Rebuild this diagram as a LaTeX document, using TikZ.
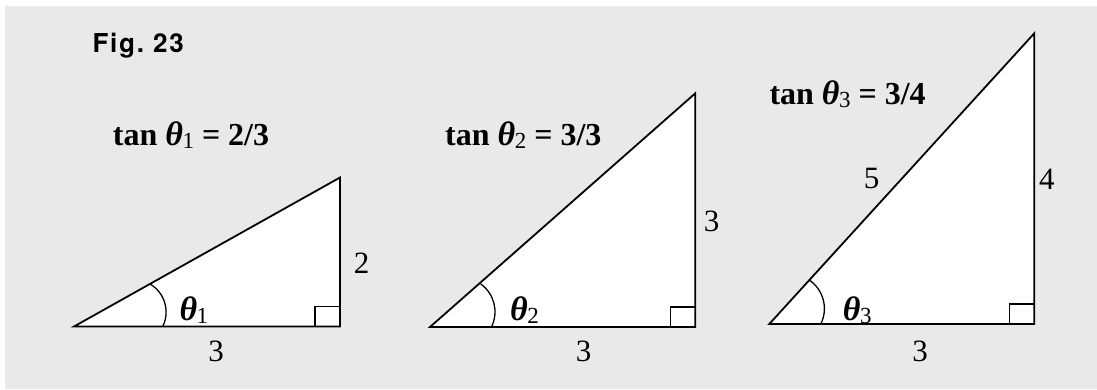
\documentclass[tikz,border=0pt]{standalone}
\usepackage{fontspec}
\setmainfont{Liberation Serif}
\newfontfamily\figfont{TeX Gyre Heros}
\definecolor{bggray}{RGB}{233,233,233}
\newcommand{\thsub}[1]{{\fontsize{34}{36}\selectfont\textit{θ}}\kern-0.5pt\raisebox{-3.5pt}{\fontsize{23}{23}\selectfont\mdseries #1}}
\tikzset{
  tri/.style={draw=black, fill=white, line width=1.8pt, line join=miter},
  rabox/.style={draw=black, line width=1.4pt},
  angarc/.style={draw=black, line width=1.3pt},
  num/.style={inner sep=0pt, font=\fontsize{31}{32}\selectfont},
  eqn/.style={inner sep=0pt, anchor=base west, font=\fontsize{32}{36}\selectfont\bfseries},
  figlabel/.style={inner sep=0pt, anchor=base west, font=\figfont\fontsize{26}{28}\selectfont\bfseries},
}
\begin{document}
\begin{tikzpicture}[x=1pt,y=-1pt]
\useasboundingbox (0,0) rectangle (1097,389);
\fill[bggray] (5,6) rectangle (1097,389);

\node[figlabel] (fig) at (92.3,52) {F\kern1.8pt i\kern1.8pt g\kern1.8pt .\kern1.8pt\ 2\kern1.8pt 3};

% triangle 1
\coordinate (A1) at (74,326.5);
\coordinate (C1) at (340,326.5);
\coordinate (T1) at (340,177.5);
\draw[tri] (A1) -- (C1) -- (T1) -- cycle;
\draw[rabox] ([xshift=-25pt]C1) rectangle ([yshift=20pt]C1);
\draw[angarc] (133.5,312.1) ++(26:32.6) arc[start angle=26, end angle=-59.6, radius=32.6];
\node[eqn] (eq1) at (112.7,145) {tan \thsub{1} = 2/3};
\node[eqn] (th1) at (179.3,320) {\thsub{1}};
\node[num] (s1a) at (361.5,263) {2};
\node[num] (s1b) at (216,351.7) {3};

% triangle 2
\coordinate (A2) at (430,327);
\coordinate (C2) at (695.3,327);
\coordinate (T2) at (695.3,93.3);
\draw[tri] (A2) -- (C2) -- (T2) -- cycle;
\draw[rabox] ([xshift=-25pt]C2) rectangle ([yshift=20pt]C2);
\draw[angarc] (460.7,311.8) ++(25.4:34.3) arc[start angle=25.4, end angle=-54.3, radius=34.3];
\node[eqn] (eq2) at (445,145) {tan \thsub{2} = 3/3};
\node[eqn] (th2) at (510,320) {\thsub{2}};
\node[num] (s2a) at (711.5,221.7) {3};
\node[num] (s2b) at (583.7,351.7) {3};

% triangle 3
\coordinate (A3) at (769.3,324);
\coordinate (C3) at (1034.3,324);
\coordinate (T3) at (1034.3,33.3);
\draw[tri] (A3) -- (C3) -- (T3) -- cycle;
\draw[rabox] ([xshift=-25pt]C3) rectangle ([yshift=20pt]C3);
\draw[angarc] (789.9,308.6) ++(26.6:34.5) arc[start angle=26.6, end angle=-55.8, radius=34.5];
\node[eqn] (eq3) at (769.3,104) {tan \thsub{3} = 3/4};
\node[eqn] (th3) at (842.7,320) {\thsub{3}};
\node[num] (s3a) at (1046.8,179) {4};
\node[num] (s3b) at (920,351.7) {3};
\node[num] (s3c) at (871.7,178.3) {5};
\end{tikzpicture}
\end{document}
